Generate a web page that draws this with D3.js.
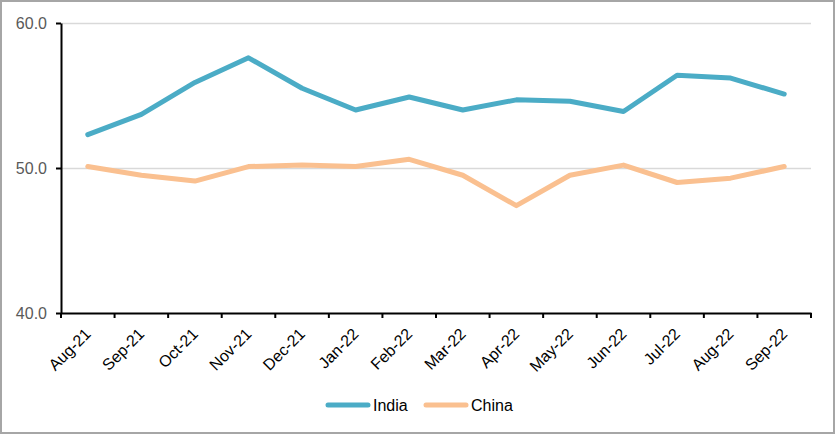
<!DOCTYPE html>
<html><head><meta charset="utf-8">
<script src="https://cdn.jsdelivr.net/npm/d3@7"></script>
<style>html,body{margin:0;padding:0;background:#fff}svg{display:block}</style>
</head><body>
<svg id="c" width="835" height="434"></svg>
<script>
const categories = ["Aug-21","Sep-21","Oct-21","Nov-21","Dec-21","Jan-22","Feb-22","Mar-22","Apr-22","May-22","Jun-22","Jul-22","Aug-22","Sep-22"];
const india = [52.3,53.7,55.9,57.6,55.5,54.0,54.9,54.0,54.7,54.6,53.9,56.4,56.2,55.1];
const china = [50.1,49.5,49.1,50.1,50.2,50.1,50.6,49.5,47.4,49.5,50.2,49.0,49.3,50.1];
const yTicks = [40,50,60];
const seriesNames = ["India","China"];
const colors = ["#4BACC6","#FAC090"];

const FONT = "Liberation Sans, Arial, sans-serif";
const svg = d3.select("#c");
svg.append("rect").attr("x",1).attr("y",1).attr("width",833).attr("height",432)
  .attr("fill","#fff").attr("stroke","#A6A6A6").attr("stroke-width",2);

const L=61, R=811, T=23, B=313;
const x = d3.scaleBand().domain(categories).range([L,R]);
const y = d3.scaleLinear().domain([40,60]).range([B,T]);

// gridlines
svg.append("g").selectAll("line").data(yTicks.filter(v=>v>40)).join("line")
  .attr("x1",L).attr("x2",R).attr("y1",d=>y(d)+0.5).attr("y2",d=>y(d)+0.5)
  .attr("stroke","#D9D9D9").attr("stroke-width",1.5);

// y axis
const ya = svg.append("g").attr("transform",`translate(${L},0)`)
  .call(d3.axisLeft(y).tickValues(yTicks).tickFormat(d3.format(".1f")).tickSize(5).tickSizeOuter(0));
ya.select(".domain").attr("stroke","#000").attr("stroke-width",2);
ya.selectAll(".tick line").attr("stroke","#000").attr("stroke-width",2);
ya.selectAll(".tick text").attr("fill","#595959").attr("font-family",FONT)
  .attr("font-size",16).attr("x",-14);

// x axis
const xa = svg.append("g").attr("transform",`translate(0,${B})`)
  .call(d3.axisBottom(x).tickSize(0));
xa.select(".domain").attr("stroke","#000").attr("stroke-width",2);
xa.selectAll(".tick text").remove();
const bounds = categories.map(c=>x(c)).concat([R]);
xa.selectAll("line.bt").data(bounds).join("line").attr("class","bt")
  .attr("x1",d=>d).attr("x2",d=>d).attr("y1",0).attr("y2",5)
  .attr("stroke","#000").attr("stroke-width",2);
svg.append("g").selectAll("text").data(categories).join("text")
  .attr("transform",d=>`translate(${x(d)+x.bandwidth()/2+4},${B+22}) rotate(-45)`)
  .attr("text-anchor","end")
  .attr("font-family",FONT).attr("font-size",16).attr("fill","#000")
  .text(d=>d);

// lines
const line = d3.line().x((d,i)=>x(categories[i])+x.bandwidth()/2).y(d=>y(d));
[china,india].forEach((s,k)=>{
  svg.append("path").datum(s).attr("d",line).attr("fill","none")
    .attr("stroke",colors[1-k]).attr("stroke-width",5)
    .attr("stroke-linecap","round").attr("stroke-linejoin","round");
});

// legend
const leg = [{n:seriesNames[0],c:colors[0],x:328},{n:seriesNames[1],c:colors[1],x:426}];
const lg = svg.append("g");
leg.forEach(d=>{
  lg.append("line").attr("x1",d.x).attr("x2",d.x+40).attr("y1",405).attr("y2",405)
    .attr("stroke",d.c).attr("stroke-width",5).attr("stroke-linecap","round");
  lg.append("text").attr("x",d.x+45).attr("y",405).attr("dy","0.36em")
    .attr("font-family",FONT).attr("font-size",16).attr("fill","#000").text(d.n);
});
</script>
</body></html>
